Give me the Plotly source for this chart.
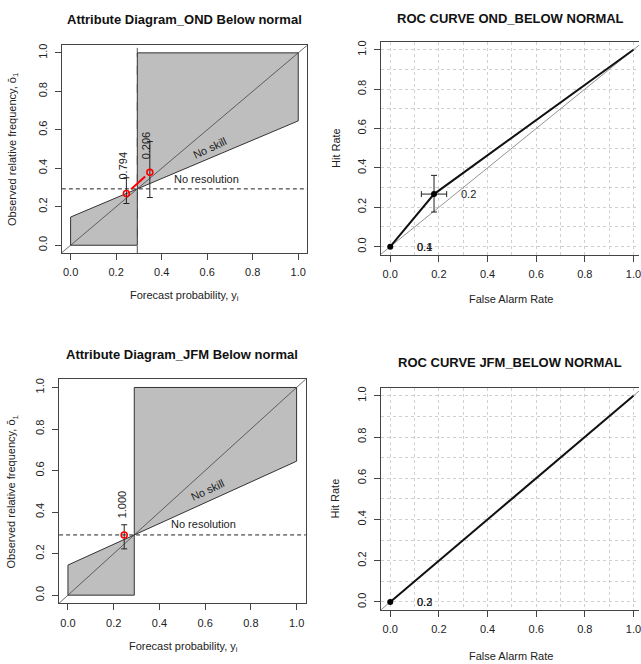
import plotly.graph_objects as go

W, H = 641, 664

# ---------------- data ----------------
# Attribute diagram OND
ond_fcst = [0.245, 0.348]
ond_obs = [0.269, 0.379]
ond_obs_lo = [0.217, 0.248]
ond_obs_hi = [0.351, 0.539]
ond_freq_labels = ["0.794", "0.206"]
ond_label_x = [0.228, 0.330]
ond_label_y = [0.412, 0.518]
ond_clim = 0.293

# Attribute diagram JFM
jfm_fcst = [0.246]
jfm_obs = [0.290]
jfm_obs_lo = [0.223]
jfm_obs_hi = [0.339]
jfm_freq_labels = ["1.000"]
jfm_label_x = [0.236]
jfm_label_y = [0.437]
jfm_clim = 0.290

# ROC OND
ond_far = [0.0, 0.18, 1.0]
ond_hit = [0.0, 0.267, 1.0]
ond_far_err = [0.052, 0.052]   # minus, plus (middle point)
ond_hit_err = [0.091, 0.095]
ond_thr_labels = [["0.4", "0.1"], ["0.2"]]

# ROC JFM
jfm_far = [0.0, 1.0]
jfm_hit = [0.0, 1.0]
jfm_thr_labels = [["0.3", "0.2"]]

FONT = "Liberation Sans, Arial, sans-serif"
TXT = "#222222"
AX = "#444444"
TICKS = [0.0, 0.2, 0.4, 0.6, 0.8, 1.0]
TICKTXT = ["0.0", "0.2", "0.4", "0.6", "0.8", "1.0"]


def dom_x(a, b):
    return [a / W, min(b / W, 1.0)]


def dom_y(top, bottom):
    return [1 - bottom / H, 1 - top / H]


def px(x):
    return x / W


def py(y):
    return 1 - y / H


fig = go.Figure()

roc_xend = -0.04 + 1.08 * (641 - 381.7) / (645.2 - 381.7)
panels = {
    "1": dict(x=(61.7, 308.3), y=(43.3, 251.7), xr=[-0.04, 1.04], roc=False),
    "2": dict(x=(381.7, 641), y=(40.0, 253.3), xr=[-0.04, roc_xend], roc=True),
    "3": dict(x=(59.0, 306.7), y=(378.3, 603.3), xr=[-0.04, 1.04], roc=False),
    "4": dict(x=(381.7, 641), y=(386.7, 610.0), xr=[-0.04, roc_xend], roc=True),
}

layout_axes = {}
for k, p in panels.items():
    xname = "xaxis" if k == "1" else "xaxis" + k
    yname = "yaxis" if k == "1" else "yaxis" + k
    common = dict(
        showline=True, linecolor=AX, linewidth=1,
        ticks="outside", ticklen=6, tickcolor=AX, tickwidth=1,
        tickmode="array", tickvals=TICKS, ticktext=TICKTXT,
        tickfont=dict(family=FONT, size=11, color=TXT),
        zeroline=False, ticklabelstandoff=3, ticklabeloverflow="allow",
    )
    if p["roc"]:
        grid = dict(showgrid=True, gridcolor="#cfcfcf", griddash="dot", gridwidth=1)
        minor = dict(tickmode="linear", tick0=0, dtick=0.1, showgrid=True,
                     gridcolor="#cfcfcf", griddash="dot", ticks="")
    else:
        grid = dict(showgrid=False)
        minor = None
    xa = dict(common, domain=dom_x(*p["x"]), range=p["xr"], anchor="y" if k == "1" else "y" + k,
              mirror=True, **grid)
    ya = dict(common, domain=dom_y(*p["y"]), range=[-0.04, 1.04], anchor="x" if k == "1" else "x" + k,
              mirror=(not p["roc"]), tickangle=-90, **grid)
    if minor:
        xa["minor"] = minor
        ya["minor"] = minor
    layout_axes[xname] = xa
    layout_axes[yname] = ya


def axrefs(k):
    return ("x", "y") if k == "1" else ("x" + k, "y" + k)


def attribute_panel(k, fcst, obs, lo, hi, labels, lab_x, lab_y, clim, show_vline, connect):
    xr, yr = axrefs(k)
    ns = lambda x: clim + (x - clim) / 2.0
    if show_vline:
        fig.add_trace(go.Scatter(x=[clim, clim], y=[-0.05, 1.05], mode="lines",
                                 line=dict(color="#555555", width=1, dash="dash"),
                                 xaxis=xr, yaxis=yr, showlegend=False, hoverinfo="skip"))
    # skill polygon
    fig.add_trace(go.Scatter(
        x=[0, clim, clim, 1, 1, 0, 0],
        y=[0, 0, 1, 1, ns(1), ns(0), 0],
        fill="toself", fillcolor="#bebebe", mode="lines",
        line=dict(color="#333333", width=1), xaxis=xr, yaxis=yr, showlegend=False, hoverinfo="skip"))
    # perfect reliability diagonal
    fig.add_trace(go.Scatter(x=[-0.1, 1.1], y=[-0.1, 1.1], mode="lines",
                             line=dict(color="#444444", width=0.8),
                             xaxis=xr, yaxis=yr, showlegend=False, hoverinfo="skip"))
    # no resolution (climatology)
    fig.add_trace(go.Scatter(x=[-0.1, 1.1], y=[clim, clim], mode="lines",
                             line=dict(color="#222222", width=1, dash="4px,3px"),
                             xaxis=xr, yaxis=yr, showlegend=False, hoverinfo="skip"))
    # connecting red segments
    if connect:
        for i in range(len(fcst) - 1):
            x0, y0, x1, y1 = fcst[i], obs[i], fcst[i + 1], obs[i + 1]
            fig.add_trace(go.Scatter(
                x=[x0 + 0.2 * (x1 - x0), x0 + 0.8 * (x1 - x0)],
                y=[y0 + 0.2 * (y1 - y0), y0 + 0.8 * (y1 - y0)],
                mode="lines", line=dict(color="#ff0000", width=2),
                xaxis=xr, yaxis=yr, showlegend=False, hoverinfo="skip"))
    # error bars
    fig.add_trace(go.Scatter(
        x=fcst, y=obs, mode="markers", marker=dict(size=1, color="rgba(0,0,0,0)"),
        error_y=dict(type="data", symmetric=False,
                     array=[h - o for h, o in zip(hi, obs)],
                     arrayminus=[o - l for o, l in zip(obs, lo)],
                     color="#222222", thickness=1, width=3),
        xaxis=xr, yaxis=yr, showlegend=False, hoverinfo="skip"))
    # points
    fig.add_trace(go.Scatter(
        x=fcst, y=obs, mode="markers",
        marker=dict(symbol="circle-open", size=6, color="#ff0000", line=dict(width=1.6, color="#ff0000")),
        xaxis=xr, yaxis=yr, showlegend=False))
    # frequency labels
    for lab, lx, ly in zip(labels, lab_x, lab_y):
        fig.add_annotation(x=lx, y=ly, xref=xr, yref=yr, text=lab, showarrow=False,
                           textangle=-90, xanchor="center", yanchor="middle",
                           font=dict(family=FONT, size=11, color=TXT))
    fig.add_annotation(x=0.61, y=ns(0.61) + 0.055, xref=xr, yref=yr, text="No skill", showarrow=False,
                       textangle=-25, xanchor="center", yanchor="middle",
                       font=dict(family=FONT, size=11, color=TXT))
    fig.add_annotation(x=0.595, y=clim + 0.052, xref=xr, yref=yr, text="No resolution", showarrow=False,
                       xanchor="center", yanchor="middle",
                       font=dict(family=FONT, size=11, color=TXT))


def roc_panel(k, far, hit, err_pt, far_err, hit_err, labels):
    xr, yr = axrefs(k)
    fig.add_trace(go.Scatter(x=[-0.1, 1.1], y=[-0.1, 1.1], mode="lines",
                             line=dict(color="#777777", width=0.8),
                             xaxis=xr, yaxis=yr, showlegend=False, hoverinfo="skip"))
    fig.add_trace(go.Scatter(x=far, y=hit, mode="lines", line=dict(color="#111111", width=2),
                             xaxis=xr, yaxis=yr, showlegend=False, hoverinfo="skip"))
    if err_pt is not None:
        fig.add_trace(go.Scatter(
            x=[far[err_pt]], y=[hit[err_pt]], mode="markers", marker=dict(size=1, color="rgba(0,0,0,0)"),
            error_x=dict(type="data", symmetric=False, array=[far_err[1]], arrayminus=[far_err[0]],
                         color="#222222", thickness=1, width=3),
            error_y=dict(type="data", symmetric=False, array=[hit_err[1]], arrayminus=[hit_err[0]],
                         color="#222222", thickness=1, width=3),
            xaxis=xr, yaxis=yr, showlegend=False, hoverinfo="skip"))
    npts = len(labels)
    fig.add_trace(go.Scatter(x=far[:npts], y=hit[:npts], mode="markers",
                             marker=dict(size=6, color="#000000"),
                             xaxis=xr, yaxis=yr, showlegend=False))
    for i, labs in enumerate(labels):
        for lab in labs:
            fig.add_annotation(x=far[i] + 0.14, y=hit[i], xref=xr, yref=yr, text=lab, showarrow=False,
                               xanchor="center", yanchor="middle",
                               font=dict(family=FONT, size=11, color=TXT))


attribute_panel("1", ond_fcst, ond_obs, ond_obs_lo, ond_obs_hi, ond_freq_labels,
                ond_label_x, ond_label_y, ond_clim, True, True)
roc_panel("2", ond_far, ond_hit, 1, ond_far_err, ond_hit_err, ond_thr_labels)
attribute_panel("3", jfm_fcst, jfm_obs, jfm_obs_lo, jfm_obs_hi, jfm_freq_labels,
                jfm_label_x, jfm_label_y, jfm_clim, False, False)
roc_panel("4", jfm_far, jfm_hit, None, None, None, jfm_thr_labels)

titles = [
    ("Attribute Diagram_OND Below normal", 185, 17.5),
    ("ROC CURVE OND_BELOW NORMAL", 512.5, 17),
    ("Attribute Diagram_JFM Below normal", 182.5, 354),
    ("ROC CURVE JFM_BELOW NORMAL", 512, 361.5),
]
for t, x, y in titles:
    fig.add_annotation(x=px(x), y=py(y), xref="paper", yref="paper", text="<b>%s</b>" % t,
                       showarrow=False, xanchor="center", yanchor="middle",
                       font=dict(family=FONT, size=13, color="#111111"))

xtitles = [
    ("Forecast probability, y<sub>i</sub>", 185, 295),
    ("False Alarm Rate", 512.5, 297.5),
    ("Forecast probability, y<sub>i</sub>", 184, 646.5),
    ("False Alarm Rate", 512.5, 656),
]
for t, x, y in xtitles:
    fig.add_annotation(x=px(x), y=py(y), xref="paper", yref="paper", text=t,
                       showarrow=False, xanchor="center", yanchor="middle",
                       font=dict(family=FONT, size=11, color=TXT))

ytitles = [
    ("Observed relative frequency, ō<sub>1</sub>", 13, 147.5),
    ("Hit Rate", 337, 146.5),
    ("Observed relative frequency, ō<sub>1</sub>", 12, 491),
    ("Hit Rate", 336, 498),
]
for t, x, y in ytitles:
    fig.add_annotation(x=px(x), y=py(y), xref="paper", yref="paper", text=t, textangle=-90,
                       showarrow=False, xanchor="center", yanchor="middle",
                       font=dict(family=FONT, size=11, color=TXT))

fig.update_layout(
    width=W, height=H, margin=dict(l=0, r=0, t=0, b=0),
    paper_bgcolor="white", plot_bgcolor="white",
    showlegend=False, **layout_axes,
)

fig.write_html("out.html")
